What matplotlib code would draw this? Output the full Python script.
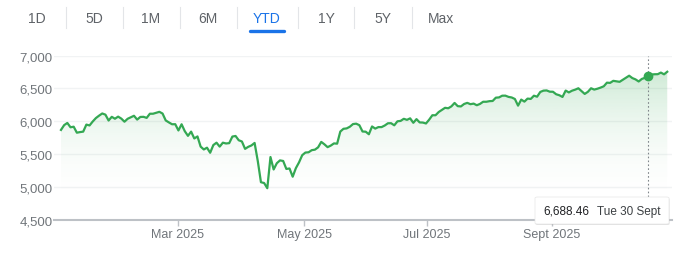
import numpy as np
import matplotlib
matplotlib.use('Agg')
import matplotlib.pyplot as plt
from matplotlib.colors import to_rgb
from matplotlib.lines import Line2D
from matplotlib.patches import FancyBboxPatch, PathPatch
from matplotlib.ticker import FuncFormatter

plt.rcParams['font.family'] = ['Liberation Sans', 'DejaVu Sans']

# range tabs above the chart
tabs = ['1D', '5D', '1M', '6M', 'YTD', '1Y', '5Y', 'Max']
active_tab = 'YTD'

# daily closes, one per trading session, 2 Jan -> 8 Oct 2025
closes = [
    # Jan
    5869, 5942, 5975, 5909, 5918, 5827, 5836, 5843, 5950, 5937,
    5997, 6049, 6086, 6119, 6101, 6012, 6068, 6039, 6071, 6041,
    # Feb
    5994, 6038, 6061, 6084, 6026, 6066, 6068, 6052, 6115, 6115,
    6129, 6144, 6118, 6013, 5983, 5955, 5956, 5861, 5955,
    # Mar
    5850, 5779, 5843, 5739, 5770, 5615, 5572, 5599, 5522, 5639,
    5675, 5615, 5675, 5663, 5668, 5768, 5777, 5712, 5693, 5581, 5612,
    # Apr
    5633, 5671, 5397, 5074, 5062, 4983, 5457, 5268, 5363, 5406,
    5397, 5276, 5283, 5158, 5288, 5376, 5485, 5525, 5529, 5561, 5569,
    # May
    5604, 5687, 5650, 5607, 5631, 5664, 5660, 5844, 5886, 5892,
    5917, 5958, 5964, 5941, 5845, 5842, 5803, 5922, 5889, 5912, 5912,
    # Jun
    5936, 5970, 5971, 5939, 6000, 6006, 6038, 6022, 6045, 5977,
    6033, 5983, 5981, 5967, 6025, 6092, 6092, 6141, 6173, 6205,
    # Jul
    6198, 6227, 6279, 6230, 6226, 6263, 6280, 6260, 6269, 6244, 6264,
    6297, 6297, 6306, 6309, 6359, 6363, 6389, 6390, 6371, 6362, 6339,
    # Aug
    6238, 6330, 6299, 6345, 6340, 6389, 6374, 6446, 6466, 6469, 6450,
    6449, 6411, 6396, 6370, 6467, 6439, 6465, 6481, 6502, 6460,
    # Sep
    6416, 6448, 6502, 6482, 6495, 6512, 6532, 6587, 6584, 6615, 6607,
    6600, 6631, 6664, 6693, 6657, 6637, 6605, 6644, 6661, 6688.46,
    # Oct
    6711, 6715, 6716, 6740, 6714, 6753,
]

y_ticks = [4500, 5000, 5500, 6000, 6500, 7000]
x_tick_labels = ['Mar 2025', 'May 2025', 'Jul 2025', 'Sept 2025']
x_tick_sessions = [36.8, 76.7, 115.2, 154.6]   # where the chart puts its month labels
hover_session = 185
hover_date = 'Tue 30 Sept'

green = '#34a853'
grey_text = '#70757a'

W, H = 681, 255
fig = plt.figure(figsize=(W / 100, H / 100), dpi=100)


def fx(x):
    return x / W


def fy(y):
    return 1 - y / H


# ---- tab bar
tab_centres = [37, 94, 151, 208, 266.5, 326, 383, 441]
separators = [66, 122.7, 180, 236.7, 297.7, 354.3, 411.7]
for name, cx in zip(tabs, tab_centres):
    fig.text(fx(cx), fy(19.5), name, ha='center', va='center', fontsize=10,
             color='#1a73e8' if name == active_tab else '#5f6368')
for sx in separators:
    fig.add_artist(Line2D([fx(sx)] * 2, [fy(8), fy(29)], transform=fig.transFigure,
                          color='#e3e5e8', lw=0.8))
fig.add_artist(Line2D([fx(250), fx(283.5)], [fy(32)] * 2, transform=fig.transFigure,
                      color='#1a73e8', lw=2.4, solid_capstyle='round'))

# ---- chart
ax = fig.add_axes([fx(54), fy(221), fx(672) - fx(54), fy(56.5) - fy(221)])
sessions = np.arange(len(closes))
ax.set_xlim(-2.2, 192.5)
ax.set_ylim(y_ticks[0], y_ticks[-1])

ax.plot(sessions, closes, color=green, lw=1.6, zorder=3, solid_joinstyle='round')

# gradient fill under the line
poly = ax.fill_between(sessions, closes, y_ticks[0], facecolor='none', edgecolor='none')
clip = PathPatch(poly.get_paths()[0], transform=ax.transData, facecolor='none', edgecolor='none')
ax.add_patch(clip)
grad = np.zeros((256, 1, 4))
grad[..., :3] = to_rgb(green)
t = np.linspace(1, 0, 256)
grad[:, 0, 3] = 0.30 * np.clip((t * 2500 - 200) / 2300, 0, 1) ** 2
im = ax.imshow(grad, extent=[-2.2, 192.5, y_ticks[0], y_ticks[-1]], aspect='auto',
               origin='upper', zorder=1, interpolation='bilinear')
im.set_clip_path(clip)

ax.set_yticks(y_ticks)
ax.yaxis.set_major_formatter(FuncFormatter(lambda v, p: f'{v:,.0f}'))
ax.set_xticks(x_tick_sessions)
ax.set_xticklabels(x_tick_labels)
ax.grid(axis='y', color='#f1f3f4', lw=1)
ax.set_axisbelow(True)
for side in ['left', 'right', 'top']:
    ax.spines[side].set_visible(False)
ax.spines['bottom'].set_color('#bdc1c6')
ax.spines['bottom'].set_linewidth(1.5)
ax.tick_params(axis='y', length=0, pad=1, labelsize=9.5, labelcolor=grey_text)
ax.tick_params(axis='x', length=4, width=1, color='#bdc1c6', pad=2,
               labelsize=9, labelcolor=grey_text)

# hover marker
ax.axvline(hover_session, color='#80868b', lw=0.8, ls=(0, (1.5, 2)), zorder=2)
ax.plot(hover_session, closes[hover_session], 'o', color=green, ms=6, zorder=4)

# tooltip
fig.add_artist(FancyBboxPatch((fx(535.5), fy(226)), fx(134), fy(198) - fy(225),
                              boxstyle='round,pad=0,rounding_size=0.004',
                              transform=fig.transFigure, fc='#000000', alpha=0.12,
                              ec='none', zorder=9))
fig.add_artist(FancyBboxPatch((fx(535), fy(225)), fx(134), fy(198) - fy(225),
                              boxstyle='round,pad=0,rounding_size=0.004',
                              transform=fig.transFigure, fc='white', ec='#e6e6e6',
                              lw=0.5, zorder=10))
fig.text(fx(543), fy(212), f'{closes[hover_session]:,.2f}', ha='left', va='center',
         fontsize=8.5, color='#202124', zorder=11)
fig.text(fx(597), fy(212), hover_date, ha='left', va='center',
         fontsize=8.5, color='#3c4043', zorder=11)

fig.savefig('out.png', dpi=100, facecolor='white')
